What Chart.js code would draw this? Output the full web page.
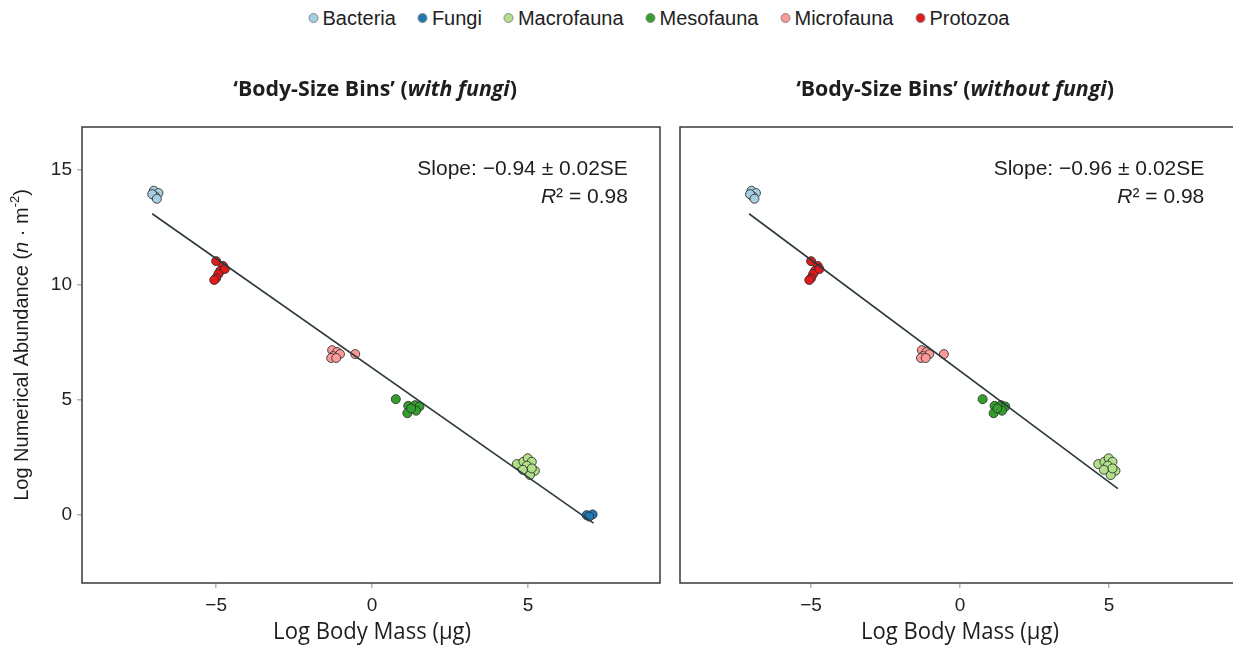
<!DOCTYPE html>
<html>
<head>
<meta charset="utf-8">
<script src="https://cdn.jsdelivr.net/npm/chart.js@4.4.1/dist/chart.umd.min.js"></script>
<style>
  html, body { margin: 0; padding: 0; width: 1233px; height: 645px; overflow: hidden; background: #fff; }
  #legend {
    position: absolute; left: 659px; top: 5px; transform: translateX(-50%);
    white-space: nowrap; font-family: "Liberation Sans", Arial, sans-serif; font-size: 20px; color: #222;
  }
  #legend .item { display: inline-flex; align-items: center; margin: 0 11px; }
  #legend .dot { width: 8px; height: 8px; border-radius: 50%; border: 1px solid #888; margin-right: 4px; }
  .panel { position: absolute; top: 0; height: 645px; }
</style>
</head>
<body>
<div id="legend"></div>
<div class="panel" style="left:0; width:670px;"><canvas id="left"></canvas></div>
<div class="panel" style="left:660px; width:600px;"><canvas id="right"></canvas></div>
<script>
// groups and colours (legend order)
const groups = ['Bacteria', 'Fungi', 'Macrofauna', 'Mesofauna', 'Microfauna', 'Protozoa'];
const groupColors = ['#a6cee3', '#1f78b4', '#b2df8a', '#33a02c', '#fb9a99', '#e31a1c'];

// log body mass (ug) / log numerical abundance (n m-2)
const bacteriaX = [-7.0, -6.85, -6.95, -7.05, -6.9];
const bacteriaY = [14.1, 14.0, 13.85, 13.95, 13.75];
const fungiX = [6.88, 7.07, 6.96];
const fungiY = [0.0, 0.03, -0.06];
const macrofaunaX = [4.64, 4.85, 4.99, 5.12, 4.96, 5.22, 5.06, 4.83, 5.12];
const macrofaunaY = [2.22, 2.32, 2.47, 2.32, 2.15, 1.93, 1.74, 1.97, 2.03];
const mesofaunaX = [0.76, 1.16, 1.38, 1.52, 1.41, 1.13, 1.25];
const mesofaunaY = [5.04, 4.75, 4.78, 4.72, 4.54, 4.43, 4.64];
const microfaunaX = [-1.28, -1.12, -1.03, -1.25, -1.31, -1.15, -0.54];
const microfaunaY = [7.17, 7.09, 7.0, 6.91, 6.83, 6.83, 7.0];
const protozoaX = [-5.0, -4.78, -4.87, -4.93, -5.0, -5.06, -4.72];
const protozoaY = [11.04, 10.83, 10.61, 10.48, 10.30, 10.22, 10.7];

// fitted lines (end points)
const fitWithX = [-7.05, 7.1];
const fitWithY = [13.1, -0.35];
const fitWithoutX = [-7.08, 5.3];
const fitWithoutY = [13.1, 1.15];

const yTicks = [0, 5, 10, 15];
const xTicks = [-5, 0, 5];

const groupData = {
  Bacteria: [bacteriaX, bacteriaY],
  Fungi: [fungiX, fungiY],
  Macrofauna: [macrofaunaX, macrofaunaY],
  Mesofauna: [mesofaunaX, mesofaunaY],
  Microfauna: [microfaunaX, microfaunaY],
  Protozoa: [protozoaX, protozoaY]
};

// html legend
const legendEl = document.getElementById('legend');
groups.forEach((g, i) => {
  const item = document.createElement('span');
  item.className = 'item';
  item.innerHTML = '<span class="dot" style="background:' + groupColors[i] + '"></span>' + g;
  legendEl.appendChild(item);
});

const SANS = '"Liberation Sans", Arial, sans-serif';
const TITLE_FONT = '"Open Sans", sans-serif';

function drawRich(ctx, parts, x, y, align, stretch, rotate) {
  let w = 0;
  parts.forEach(p => { ctx.font = p.font; p.w = ctx.measureText(p.text).width; w += p.w; });
  ctx.save();
  ctx.translate(x, y);
  if (rotate) ctx.rotate(rotate);
  ctx.scale(stretch, 1);
  let cx = align === 'center' ? -w / 2 : (align === 'right' ? -w : 0);
  ctx.textBaseline = 'middle';
  ctx.textAlign = 'left';
  ctx.fillStyle = '#1e1e1e';
  parts.forEach(p => { ctx.font = p.font; ctx.fillText(p.text, cx, p.dy || 0); cx += p.w; });
  ctx.restore();
}

const panelDecor = {
  id: 'panelDecor',
  afterDraw(chart, args, opts) {
    const ctx = chart.ctx;
    const a = chart.chartArea;
    const xs = chart.scales.x, ys = chart.scales.y;
    // frame
    ctx.save();
    ctx.strokeStyle = '#3a3a3a';
    ctx.lineWidth = 1.5;
    ctx.strokeRect(a.left, a.top, a.right - a.left, a.bottom - a.top);
    ctx.restore();

    const midX = xs.getPixelForValue(0);
    // panel title
    drawRich(ctx, [
      { text: '\u2018Body-Size Bins\u2019 (', font: 'bold 22px ' + TITLE_FONT },
      { text: opts.subset, font: 'italic bold 22px ' + TITLE_FONT },
      { text: ')', font: 'bold 22px ' + TITLE_FONT }
    ], midX + opts.titleShift, 90, 'center', 0.97);

    // x axis title
    drawRich(ctx, [{ text: 'Log Body Mass (\u00b5g)', font: '23px ' + TITLE_FONT }],
      midX, 632, 'center', 0.96);

    // slope and r2
    const ax = xs.getPixelForValue(8.2);
    drawRich(ctx, [{ text: opts.slope, font: '21px ' + SANS }], ax, ys.getPixelForValue(15.04), 'right', 1);
    drawRich(ctx, [
      { text: 'R', font: 'italic 21px ' + SANS },
      { text: '\u00b2 = ' + opts.r2, font: '21px ' + SANS }
    ], ax, ys.getPixelForValue(13.83), 'right', 1);

    if (opts.yTitle) {
      drawRich(ctx, [
        { text: 'Log Numerical Abundance (', font: '20px ' + SANS },
        { text: 'n', font: 'italic 20px ' + SANS },
        { text: ' \u00b7 m', font: '20px ' + SANS },
        { text: '-2', font: '13px ' + SANS, dy: -7 },
        { text: ')', font: '20px ' + SANS }
      ], 22, 345, 'center', 1, -Math.PI / 2);
    }
  }
};

function minusFmt(v) {
  return v < 0 ? '\u2212' + Math.abs(v) : String(v);
}

function makePanel(id, cfg) {
  const datasets = [{
    type: 'line',
    data: cfg.fitX.map((x, i) => ({ x: x, y: cfg.fitY[i] })),
    borderColor: '#2c3a3c',
    borderWidth: 1.6,
    pointRadius: 0,
    fill: false
  }];
  groups.forEach((g, i) => {
    if (cfg.skip.includes(g)) return;
    const [gx, gy] = groupData[g];
    datasets.push({
      label: g,
      data: gx.map((x, k) => ({ x: x, y: gy[k] })),
      backgroundColor: groupColors[i],
      borderColor: 'rgba(45,45,45,0.85)',
      borderWidth: 1,
      pointRadius: 4.5
    });
  });

  return new Chart(document.getElementById(id), {
    type: 'scatter',
    data: { datasets: datasets },
    options: {
      responsive: true,
      maintainAspectRatio: false,
      animation: false,
      layout: { padding: { top: 127, right: cfg.padRight, left: 0, bottom: 0 } },
      plugins: {
        legend: { display: false },
        tooltip: { enabled: false },
        panelDecor: { subset: cfg.subset, slope: cfg.slope, r2: cfg.r2, yTitle: cfg.yTitle, titleShift: cfg.titleShift }
      },
      scales: {
        x: {
          type: 'linear',
          min: cfg.xMin, max: cfg.xMax,
          afterFit: s => { s.height = 62; },
          afterBuildTicks: s => { s.ticks = xTicks.map(v => ({ value: v })); },
          border: { display: false },
          grid: { drawOnChartArea: false, drawTicks: true, tickLength: 5, tickColor: '#9fbccb', lineWidth: 1.5 },
          ticks: { padding: 6, color: '#222', font: { family: SANS, size: 19 }, callback: minusFmt }
        },
        y: {
          type: 'linear',
          min: -2.95, max: 16.87,
          afterFit: s => { s.width = cfg.yWidth; },
          afterBuildTicks: s => { s.ticks = yTicks.map(v => ({ value: v })); },
          border: { display: false },
          grid: { drawOnChartArea: false, drawTicks: cfg.yTitle, tickLength: 5, tickColor: '#9fbccb', lineWidth: 1.5 },
          ticks: { display: cfg.yTitle, padding: 5, color: '#222', font: { family: SANS, size: 19 }, callback: minusFmt }
        }
      }
    },
    plugins: [panelDecor]
  });
}

makePanel('left', {
  subset: 'with fungi', slope: 'Slope: \u22120.94 \u00b1 0.02SE', r2: '0.98',
  fitX: fitWithX, fitY: fitWithY, skip: [], yTitle: true, titleShift: 3,
  xMin: -9.3, xMax: 9.23, yWidth: 82, padRight: 10
});
makePanel('right', {
  subset: 'without fungi', slope: 'Slope: \u22120.96 \u00b1 0.02SE', r2: '0.98',
  fitX: fitWithoutX, fitY: fitWithoutY, skip: ['Fungi'], yTitle: false, titleShift: -5,
  xMin: -9.4, xMax: 9.4, yWidth: 20, padRight: 20
});
</script>
</body>
</html>
